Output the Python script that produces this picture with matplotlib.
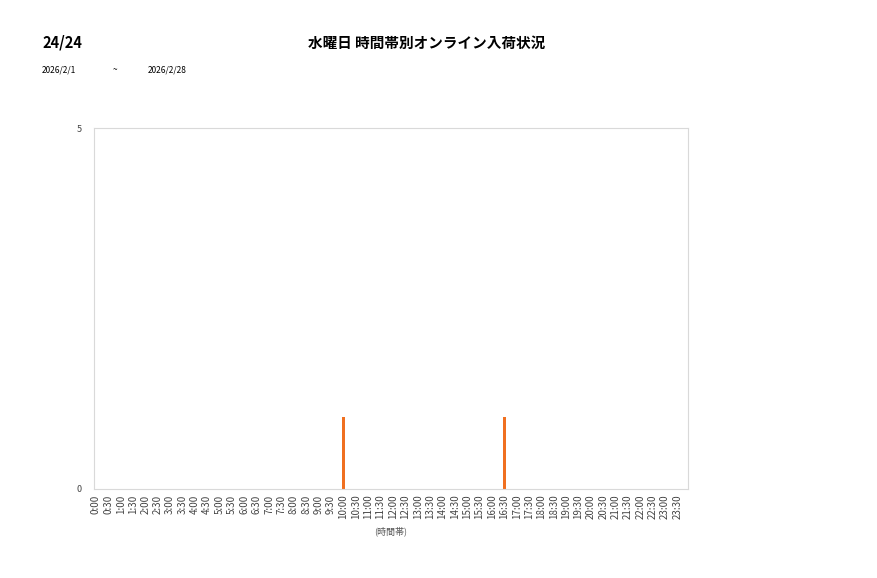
import numpy as np
import matplotlib.pyplot as plt

plt.rcParams['font.family'] = ['Noto Sans CJK JP', 'DejaVu Sans']

# Data
time_slots = [f"{h}:{m:02d}" for h in range(24) for m in (0, 30)]
counts = [0] * 48
counts[time_slots.index("10:00")] = 1
counts[time_slots.index("16:30")] = 1

page_label = "24/24"
title = "水曜日 時間帯別オンライン入荷状況"
date_from = "2026/2/1"
date_to = "2026/2/28"

fig = plt.figure(figsize=(8.77, 5.78), dpi=100)
ax = fig.add_axes([94 / 877, 1 - 489 / 578, (688 - 94) / 877, (489 - 128) / 578])

x = np.arange(len(time_slots))
ax.bar(x, counts, width=0.25, color='#f07020')

ax.set_xlim(-0.15, 47.85)
ax.set_ylim(0, 5)
ax.set_yticks([0, 5])
ax.set_xticks(x)
ax.set_xticklabels(time_slots, rotation=90, fontsize=7, color='#444444')
ax.tick_params(axis='both', length=0, pad=4)
ax.tick_params(axis='y', labelsize=6.5, labelcolor='#444444', pad=9)
for s in ax.spines.values():
    s.set_color('#d9d9d9')
    s.set_linewidth(0.8)
ax.set_xlabel("(時間帯)", fontsize=6.5, color='#555555', labelpad=5)

# Header texts
fig.text(42 / 877, 1 - 43 / 578, page_label, fontsize=10.5, va='center', ha='left',
         fontweight='bold')
fig.text(427 / 877, 1 - 43 / 578, title, fontsize=10.5, va='center', ha='center',
         fontweight='bold')
fig.text(42 / 877, 1 - 70 / 578, date_from, fontsize=6, va='center', ha='left')
fig.text(113 / 877, 1 - 70 / 578, "~", fontsize=6, va='center', ha='left')
fig.text(148 / 877, 1 - 70 / 578, date_to, fontsize=6, va='center', ha='left')

fig.savefig("out.png", dpi=100)
